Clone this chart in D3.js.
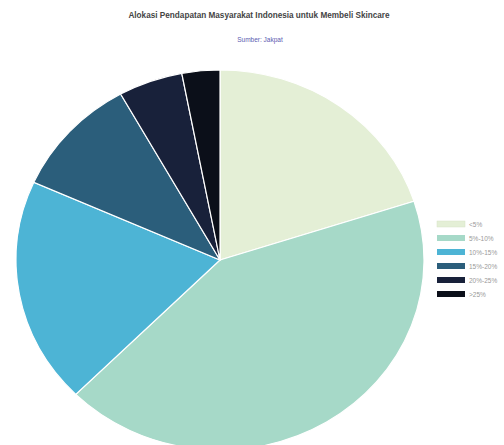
<!DOCTYPE html>
<html>
<head>
<meta charset="utf-8">
<script src="https://cdn.jsdelivr.net/npm/d3@7"></script>
<style>
  body { margin: 0; background: #fff; }
  svg { display: block; font-family: "Liberation Sans", Arial, sans-serif; }
</style>
</head>
<body>
<div id="chart"></div>
<script>
// data (percent of respondents)
var categories = ["<5%", "5%-10%", "10%-15%", "15%-20%", "20%-25%", ">25%"];
var values = [20.0, 42.5, 19.2, 10.2, 5.1, 3.0];
var colors = ["#e4efd6", "#a6d9c8", "#4db4d5", "#2b5e7b", "#18213a", "#0b0f19"];

var width = 504, height = 445;

var svg = d3.select("#chart").append("svg")
    .attr("width", width)
    .attr("height", height);

// title + source
svg.append("text")
    .attr("x", 259)
    .attr("y", 18)
    .attr("text-anchor", "middle")
    .style("font-size", "8.2px")
    .style("font-weight", "bold")
    .style("fill", "#444")
    .text("Alokasi Pendapatan Masyarakat Indonesia untuk Membeli Skincare");

svg.append("text")
    .attr("x", 260)
    .attr("y", 42)
    .attr("text-anchor", "middle")
    .style("font-size", "6.5px")
    .style("fill", "#5b5bb0")
    .text("Sumber: Jakpat");

// pie is a bit squashed vertically in the original
var rx = 204, ry = 190;

var pie = d3.pie().sort(null).value(function (d) { return d; });
var arc = d3.arc().innerRadius(0).outerRadius(rx);

var g = svg.append("g")
    .attr("transform", "translate(220,260) scale(1," + (ry / rx) + ")");

g.selectAll("path")
    .data(pie(values))
    .enter()
    .append("path")
    .attr("d", arc)
    .style("fill", function (d, i) { return colors[i]; })
    .style("stroke", "#fff")
    .style("stroke-width", 1.2);

// legend
var legend = svg.append("g")
    .attr("transform", "translate(437,224)");

var rows = legend.selectAll("g")
    .data(categories)
    .enter()
    .append("g")
    .attr("transform", function (d, i) { return "translate(0," + (i * 14) + ")"; });

rows.append("rect")
    .attr("x", 0)
    .attr("y", -3)
    .attr("width", 28)
    .attr("height", 6)
    .style("fill", function (d, i) { return colors[i]; })
    .style("stroke", function (d, i) { return i == 0 ? "#d5e3c6" : "none"; })
    .style("stroke-width", 0.5);

rows.append("text")
    .attr("x", 32)
    .attr("y", 2.5)
    .style("font-size", "6.5px")
    .style("fill", "#999")
    .text(function (d) { return d; });
</script>
</body>
</html>
